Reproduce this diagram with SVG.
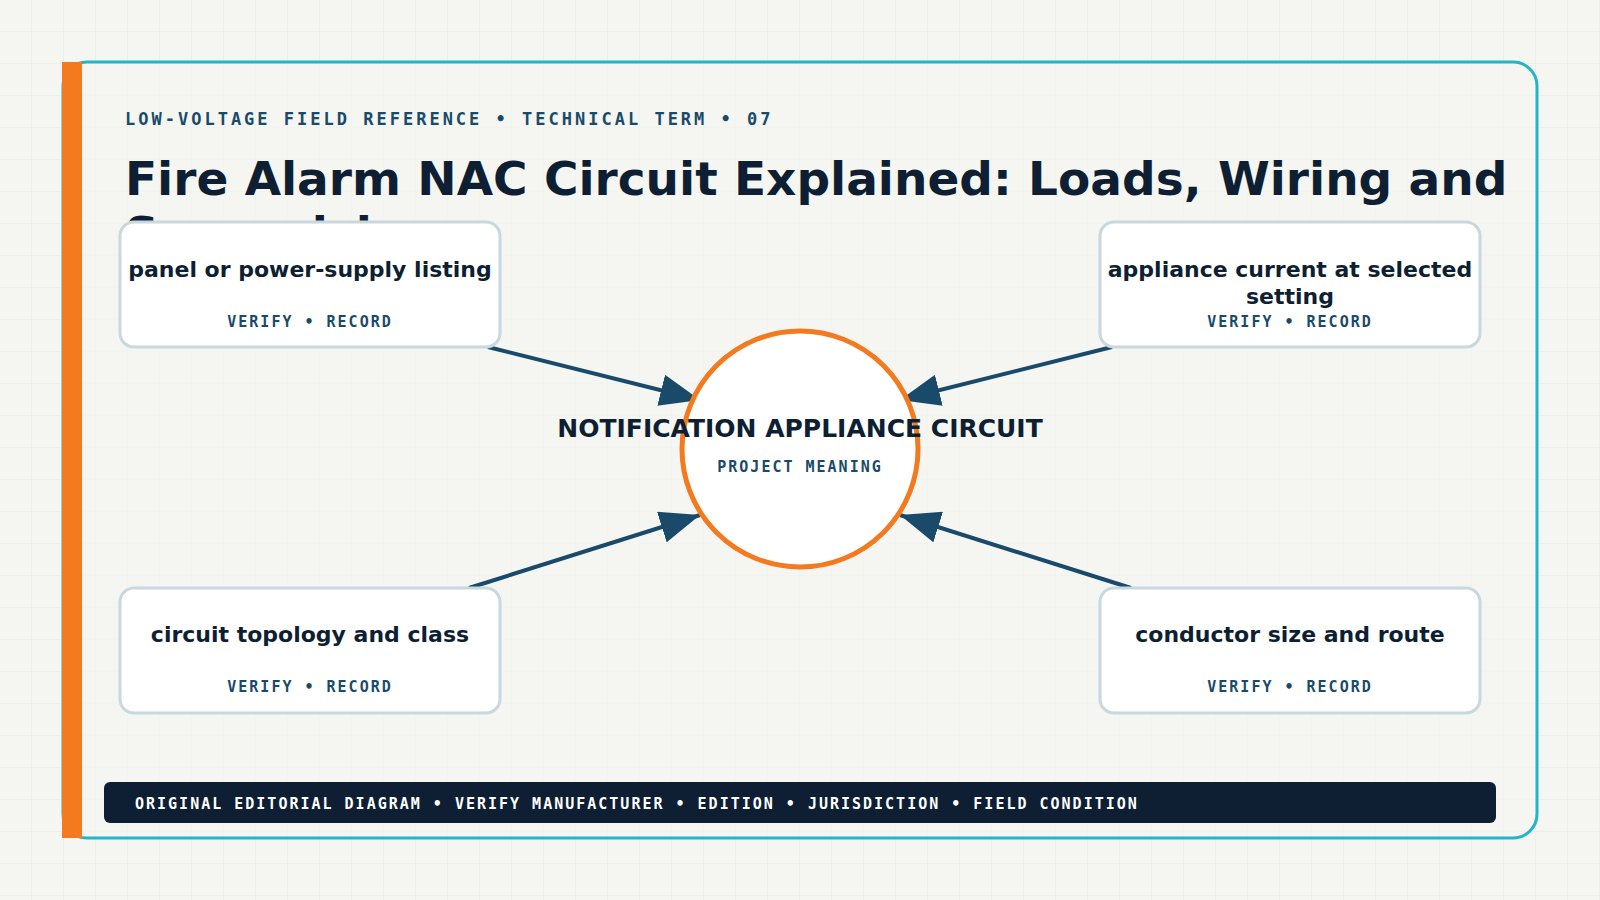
<svg xmlns="http://www.w3.org/2000/svg" width="1600" height="900" viewBox="0 0 1600 900">
<defs>
<pattern id="grid" width="32" height="32" patternUnits="userSpaceOnUse"><path d="M32 0V32M0 32H32" fill="none" stroke="#e2eae6" stroke-width="1"/></pattern>
<marker id="ah" viewBox="0 0 10 10" refX="10" refY="5" markerWidth="10" markerHeight="8" markerUnits="strokeWidth" orient="auto" preserveAspectRatio="none"><path d="M0 0L10 5L0 10Z" fill="#1a4a6a"/></marker>
<style>
.mono{font-family:"DejaVu Sans Mono",monospace;font-weight:bold;fill:#1a4a6a}
.sans{font-family:"DejaVu Sans",sans-serif;font-weight:bold;fill:#0e1f33}
.node rect{fill:#fff;stroke:#c8d8de;stroke-width:3}
.nt{font-size:22px;text-anchor:middle}
.ns{font-size:15px;letter-spacing:2px;text-anchor:middle}
.conn line{stroke:#1a4a6a;stroke-width:4;marker-end:url(#ah)}
</style>
</defs>
<rect width="1600" height="900" fill="#f5f6f2"/>
<rect width="1600" height="900" fill="url(#grid)"/>
<rect x="63" y="62" width="1474" height="776" rx="24" fill="#f5f6f2" fill-opacity="0.6" stroke="#22b5c8" stroke-width="3"/>
<rect x="62" y="62" width="20" height="776" fill="#f47a20"/>
<text x="125" y="125" class="mono" font-size="17" letter-spacing="3">LOW-VOLTAGE FIELD REFERENCE • TECHNICAL TERM • 07</text>
<text class="sans" font-size="47"><tspan x="125" y="195">Fire Alarm NAC Circuit Explained: Loads, Wiring and</tspan><tspan x="125" y="250">Supervision</tspan></text>
<g class="conn">
<line x1="488" y1="347" x2="700" y2="400"/>
<line x1="1112" y1="347" x2="900" y2="400"/>
<line x1="469" y1="588" x2="700" y2="515"/>
<line x1="1131" y1="588" x2="900" y2="515"/>
</g>
<g id="n1" class="node"><rect x="120" y="222" width="380" height="125" rx="14"/><text x="310" y="277" class="sans nt">panel or power-supply listing</text><text x="310" y="327" class="mono ns">VERIFY • RECORD</text></g>
<g id="n2" class="node"><rect x="1100" y="222" width="380" height="125" rx="14"/><text x="1290" y="277" class="sans nt">appliance current at selected</text><text x="1290" y="304" class="sans nt">setting</text><text x="1290" y="327" class="mono ns">VERIFY • RECORD</text></g>
<g id="n3" class="node"><rect x="120" y="588" width="380" height="125" rx="14"/><text x="310" y="642" class="sans nt">circuit topology and class</text><text x="310" y="692" class="mono ns">VERIFY • RECORD</text></g>
<g id="n4" class="node"><rect x="1100" y="588" width="380" height="125" rx="14"/><text x="1290" y="642" class="sans nt">conductor size and route</text><text x="1290" y="692" class="mono ns">VERIFY • RECORD</text></g>
<g id="center"><circle cx="800" cy="449" r="118" fill="#fff" stroke="#f47a20" stroke-width="5"/><text x="800" y="437" class="sans" font-size="25" text-anchor="middle">NOTIFICATION APPLIANCE CIRCUIT</text><text x="800" y="472" class="mono" font-size="15" letter-spacing="2" text-anchor="middle">PROJECT MEANING</text></g>
<rect x="104" y="782" width="1392" height="41" rx="6" fill="#0e1f33"/>
<text x="135" y="809" class="mono" font-size="15" letter-spacing="2" style="fill:#fff">ORIGINAL EDITORIAL DIAGRAM • VERIFY MANUFACTURER • EDITION • JURISDICTION • FIELD CONDITION</text>
</svg>
